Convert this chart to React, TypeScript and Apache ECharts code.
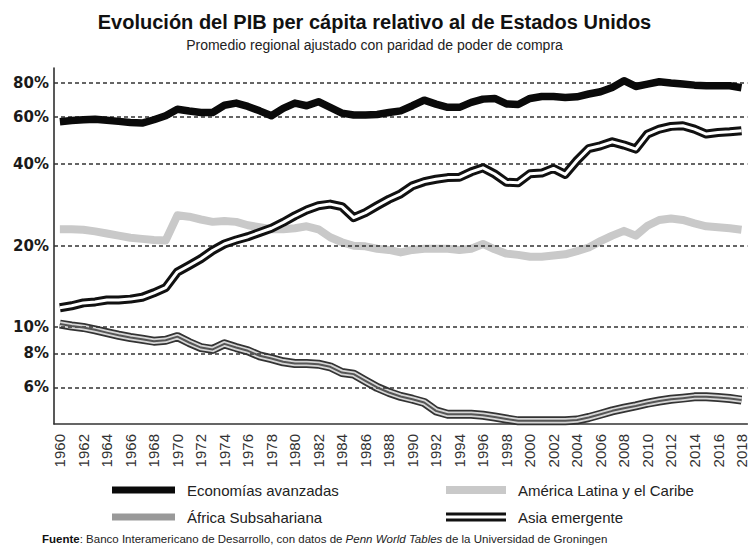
import React, { useEffect, useRef } from 'react';
import * as echarts from 'echarts';

const years = [
  '1960', '1961', '1962', '1963', '1964', '1965', '1966', '1967', '1968', '1969',
  '1970', '1971', '1972', '1973', '1974', '1975', '1976', '1977', '1978', '1979',
  '1980', '1981', '1982', '1983', '1984', '1985', '1986', '1987', '1988', '1989',
  '1990', '1991', '1992', '1993', '1994', '1995', '1996', '1997', '1998', '1999',
  '2000', '2001', '2002', '2003', '2004', '2005', '2006', '2007', '2008', '2009',
  '2010', '2011', '2012', '2013', '2014', '2015', '2016', '2017', '2018',
];

const avanzadas = [
  57.4, 58.0, 58.4, 58.7, 58.2, 57.6, 57.1, 56.8, 58.4, 60.4,
  63.9, 62.9, 62.1, 62.1, 66.1, 67.3, 65.4, 63.0, 60.4, 64.3,
  67.3, 65.8, 68.1, 64.9, 61.8, 60.8, 60.8, 61.1, 62.1, 63.0,
  65.8, 69.0, 66.7, 64.9, 64.9, 67.7, 69.6, 70.0, 66.8, 66.5,
  70.0, 71.2, 71.2, 70.6, 71.0, 72.7, 74.1, 76.9, 81.4, 77.5,
  79.1, 80.7, 79.8, 79.1, 78.4, 78.0, 78.0, 78.0, 76.7,
];

const latam = [
  23.0, 23.0, 22.9, 22.6, 22.2, 21.8, 21.4, 21.2, 21.0, 20.9,
  25.9, 25.6, 25.0, 24.5, 24.7, 24.5, 23.8, 23.4, 23.0, 23.0,
  23.2, 23.6, 23.0, 21.5, 20.6, 20.0, 19.9, 19.5, 19.3, 18.9,
  19.3, 19.5, 19.5, 19.5, 19.3, 19.5, 20.3, 19.4, 18.7, 18.5,
  18.2, 18.2, 18.4, 18.6, 19.1, 19.7, 20.8, 21.8, 22.7, 21.8,
  23.7, 24.9, 25.2, 24.9, 24.2, 23.6, 23.4, 23.2, 22.9,
];

const africa = [
  10.27, 10.1, 9.98, 9.78, 9.55, 9.34, 9.16, 9.03, 8.88, 8.95,
  9.23, 8.78, 8.41, 8.28, 8.68, 8.41, 8.18, 7.84, 7.66, 7.45,
  7.34, 7.34, 7.30, 7.14, 6.80, 6.71, 6.34, 5.99, 5.74, 5.55,
  5.42, 5.27, 4.91, 4.77, 4.77, 4.77, 4.73, 4.66, 4.58, 4.51,
  4.51, 4.51, 4.51, 4.51, 4.54, 4.64, 4.77, 4.91, 5.02, 5.12,
  5.24, 5.34, 5.42, 5.47, 5.53, 5.54, 5.50, 5.45, 5.38,
];

const asia = [
  11.8, 12.0, 12.3, 12.4, 12.6, 12.6, 12.7, 12.9, 13.4, 14.0,
  16.0, 16.9, 17.9, 19.2, 20.3, 21.0, 21.6, 22.4, 23.2, 24.4,
  25.8, 27.1, 28.1, 28.5, 27.9, 25.4, 26.5, 28.1, 29.7, 31.1,
  33.3, 34.5, 35.2, 35.7, 35.8, 37.5, 38.8, 36.8, 34.3, 34.2,
  36.9, 37.1, 38.6, 36.7, 41.3, 45.7, 46.8, 48.4, 47.1, 45.5,
  51.7, 53.9, 55.2, 55.5, 53.9, 51.7, 52.4, 52.7, 53.2,
];

const gridTicks = [6, 8, 10, 20, 40, 60, 80];
const tickLabels = ['6%', '8%', '10%', '20%', '40%', '60%', '80%'];

const title = 'Evolución del PIB per cápita relativo al de Estados Unidos';
const subtitle = 'Promedio regional ajustado con paridad de poder de compra';
const legendNames = ['Economías avanzadas', 'América Latina y el Caribe', 'África Subsahariana', 'Asia emergente'];

const FONT = '"Liberation Sans", Arial, Helvetica, sans-serif';

function lineSeries(name: string, data: number[], color: string, width: number, z: number) {
  return {
    type: 'line',
    name,
    data,
    z,
    symbol: 'none',
    showSymbol: false,
    silent: true,
    emphasis: { disabled: true },
    lineStyle: { color, width, join: 'round', cap: 'butt' },
  };
}

export default function App() {
  const ref = useRef<HTMLDivElement>(null);

  useEffect(() => {
    if (!ref.current) return;
    const chart = echarts.init(ref.current, undefined, { renderer: 'svg' });

    chart.setOption({
      animation: false,
      backgroundColor: '#ffffff',
      grid: { left: 54, right: 0, top: 68, bottom: 124 },
      xAxis: {
        type: 'category',
        data: years,
        boundaryGap: true,
        axisLine: { show: true, lineStyle: { color: '#333', width: 1.5 } },
        axisTick: { show: false },
        axisLabel: {
          interval: 1,
          rotate: 90,
          margin: 10,
          fontFamily: FONT,
          fontSize: 15,
          color: '#333',
        },
        splitLine: { show: false },
      },
      yAxis: {
        type: 'log',
        logBase: 10,
        min: 4.39,
        max: 90.7,
        axisLine: { show: true, lineStyle: { color: '#222', width: 1.5 } },
        axisTick: { show: false },
        axisLabel: { show: false },
        splitLine: { show: false },
      },
      series: [
        {
          type: 'line',
          name: 'grid',
          data: years.map(() => null),
          z: 1,
          silent: true,
          symbol: 'none',
          markLine: {
            silent: true,
            symbol: ['none', 'none'],
            lineStyle: { type: [4, 3], color: '#333', width: 1.5 },
            label: {
              show: true,
              position: 'start',
              distance: 5,
              fontFamily: '"DejaVu Sans", Arial, sans-serif',
              fontWeight: 'bold',
              fontSize: 15,
              color: '#1a1a1a',
            },
            emphasis: { disabled: true },
            data: gridTicks.map((v, i) => ({ yAxis: v, label: { formatter: tickLabels[i] } })),
          },
        },
        lineSeries(legendNames[1], latam, '#c9c9c9', 8, 2),
        lineSeries(legendNames[2], africa, '#333333', 9, 3),
        lineSeries(legendNames[2] + ' b', africa, '#d6d6d6', 5.5, 4),
        lineSeries(legendNames[2] + ' c', africa, '#555555', 2, 5),
        lineSeries(legendNames[3], asia, '#111111', 9, 6),
        lineSeries(legendNames[3] + ' b', asia, '#ffffff', 3, 7),
        lineSeries(legendNames[0], avanzadas, '#0a0a0a', 7.5, 8),
      ],
      graphic: [
        {
          type: 'text',
          x: 374.5,
          y: 22,
          style: {
            text: title,
            font: `bold 20px ${FONT}`,
            fill: '#111',
            textAlign: 'center',
            textVerticalAlign: 'middle',
          },
        },
        {
          type: 'text',
          x: 374.5,
          y: 45,
          style: {
            text: subtitle,
            font: `14px ${FONT}`,
            fill: '#222',
            textAlign: 'center',
            textVerticalAlign: 'middle',
          },
        },
        // legend row 1
        { type: 'line', shape: { x1: 112, y1: 490, x2: 175, y2: 490 }, style: { stroke: '#0a0a0a', lineWidth: 7 } },
        {
          type: 'text', x: 187, y: 490,
          style: { text: legendNames[0], font: `15px ${FONT}`, fill: '#222', textAlign: 'left', textVerticalAlign: 'middle' },
        },
        { type: 'line', shape: { x1: 446, y1: 490, x2: 506, y2: 490 }, style: { stroke: '#c9c9c9', lineWidth: 8 } },
        {
          type: 'text', x: 518, y: 490,
          style: { text: legendNames[1], font: `15px ${FONT}`, fill: '#222', textAlign: 'left', textVerticalAlign: 'middle' },
        },
        // legend row 2
        { type: 'line', shape: { x1: 112, y1: 517, x2: 175, y2: 517 }, style: { stroke: '#999999', lineWidth: 7 } },
        {
          type: 'text', x: 187, y: 517,
          style: { text: legendNames[2], font: `15px ${FONT}`, fill: '#222', textAlign: 'left', textVerticalAlign: 'middle' },
        },
        { type: 'line', shape: { x1: 446, y1: 517, x2: 506, y2: 517 }, style: { stroke: '#111', lineWidth: 9 } },
        { type: 'line', shape: { x1: 446, y1: 517, x2: 506, y2: 517 }, style: { stroke: '#fff', lineWidth: 3 } },
        {
          type: 'text', x: 518, y: 517,
          style: { text: legendNames[3], font: `15px ${FONT}`, fill: '#222', textAlign: 'left', textVerticalAlign: 'middle' },
        },
        {
          type: 'text', x: 42, y: 539,
          style: {
            text: '{b|Fuente}: Banco Interamericano de Desarrollo, con datos de {i|Penn World Tables} de la Universidad de Groningen',
            font: `11.5px ${FONT}`,
            fill: '#222',
            textAlign: 'left',
            textVerticalAlign: 'middle',
            rich: {
              b: { fontWeight: 'bold', fontSize: 11.5, fontFamily: FONT, fill: '#111' },
              i: { fontStyle: 'italic', fontSize: 11.5, fontFamily: FONT, fill: '#222' },
            },
          },
        },
      ],
    });

    return () => chart.dispose();
  }, []);

  return (
    <div
      ref={ref}
      style={{ position: 'fixed', left: 0, top: 0, width: 749, height: 548, background: '#fff' }}
    />
  );
}
